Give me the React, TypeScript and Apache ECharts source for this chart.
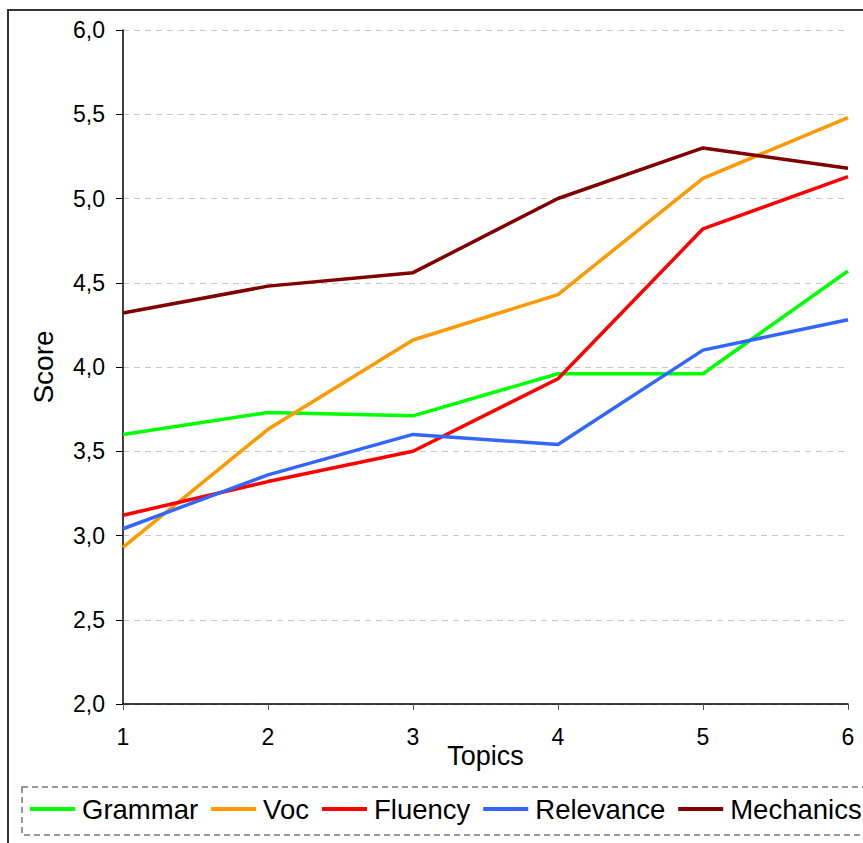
import React, { useEffect, useRef } from "react";
import * as echarts from "echarts";

const topics = ["1", "2", "3", "4", "5", "6"];
const grammar = [3.6, 3.73, 3.71, 3.96, 3.96, 4.57];
const voc = [2.93, 3.63, 4.16, 4.43, 5.12, 5.48];
const fluency = [3.12, 3.32, 3.5, 3.93, 4.82, 5.13];
const relevance = [3.04, 3.36, 3.6, 3.54, 4.1, 4.28];
const mechanics = [4.32, 4.48, 4.56, 5.0, 5.3, 5.18];

const seriesNames = ["Grammar", "Voc", "Fluency", "Relevance", "Mechanics"];
const seriesColors = ["#00ff00", "#ff9900", "#ff0000", "#3366ff", "#800000"];
const seriesData = [grammar, voc, fluency, relevance, mechanics];

const FONT = "'Liberation Sans', Arial, sans-serif";

export default function App() {
  const ref = useRef<HTMLDivElement>(null);
  useEffect(() => {
    document.body.style.margin = "0";
    const chart = echarts.init(ref.current!, null, { renderer: "svg" });
    chart.setOption({
      animation: false,
      backgroundColor: "#ffffff",
      textStyle: { fontFamily: FONT },
      grid: { left: 123, right: 15, top: 30, bottom: 139 },
      graphic: [
        {
          type: "rect",
          shape: { x: 8, y: 10, width: 1000, height: 1000 },
          style: { fill: "none", stroke: "#333333", lineWidth: 2 },
          silent: true,
        },
        {
          type: "rect",
          shape: { x: 22, y: 787, width: 860, height: 48 },
          style: { fill: "none", stroke: "#777777", lineWidth: 1.5, lineDash: [6, 4] },
          silent: true,
        },
      ],
      legend: {
        left: 30,
        top: 795,
        itemWidth: 45,
        itemHeight: 4,
        itemGap: 13,
        icon: "rect",
        padding: 0,
        textStyle: { fontSize: 27.5, color: "#000", fontFamily: FONT, padding: [0, 0, 0, 2] },
        data: seriesNames,
      },
      xAxis: {
        type: "category",
        data: topics,
        boundaryGap: false,
        name: "Topics",
        nameLocation: "middle",
        nameGap: 38,
        nameMoveOverlap: false,
        nameTextStyle: { fontSize: 27, color: "#000", fontFamily: FONT },
        axisLine: { lineStyle: { color: "#000", width: 1.5 } },
        axisTick: { show: true, length: 6, lineStyle: { color: "#555" } },
        axisLabel: { fontSize: 23, color: "#000", margin: 21, fontFamily: FONT },
        splitLine: { show: false },
      },
      yAxis: {
        type: "value",
        min: 2,
        max: 6,
        interval: 0.5,
        name: "Score",
        nameLocation: "middle",
        nameGap: 66,
        nameMoveOverlap: false,
        nameTextStyle: { fontSize: 28, color: "#000", fontFamily: FONT },
        axisLine: { show: true, lineStyle: { color: "#000", width: 1.5 } },
        axisTick: { show: true, length: 7, lineStyle: { color: "#000" } },
        axisLabel: {
          fontSize: 23,
          color: "#000",
          margin: 18,
          fontFamily: FONT,
          formatter: (v: number) => v.toFixed(1).replace(".", ","),
        },
        splitLine: { show: true, lineStyle: { color: "#c8c8c8", type: [6, 5], width: 1 } },
      },
      series: seriesNames.map((name, i) => ({
        name,
        type: "line",
        data: seriesData[i],
        showSymbol: false,
        symbol: "none",
        lineStyle: { color: seriesColors[i], width: 3.5 },
        itemStyle: { color: seriesColors[i] },
      })),
    });
    return () => chart.dispose();
  }, []);
  return <div ref={ref} style={{ width: 863, height: 843, overflow: "hidden" }} />;
}
